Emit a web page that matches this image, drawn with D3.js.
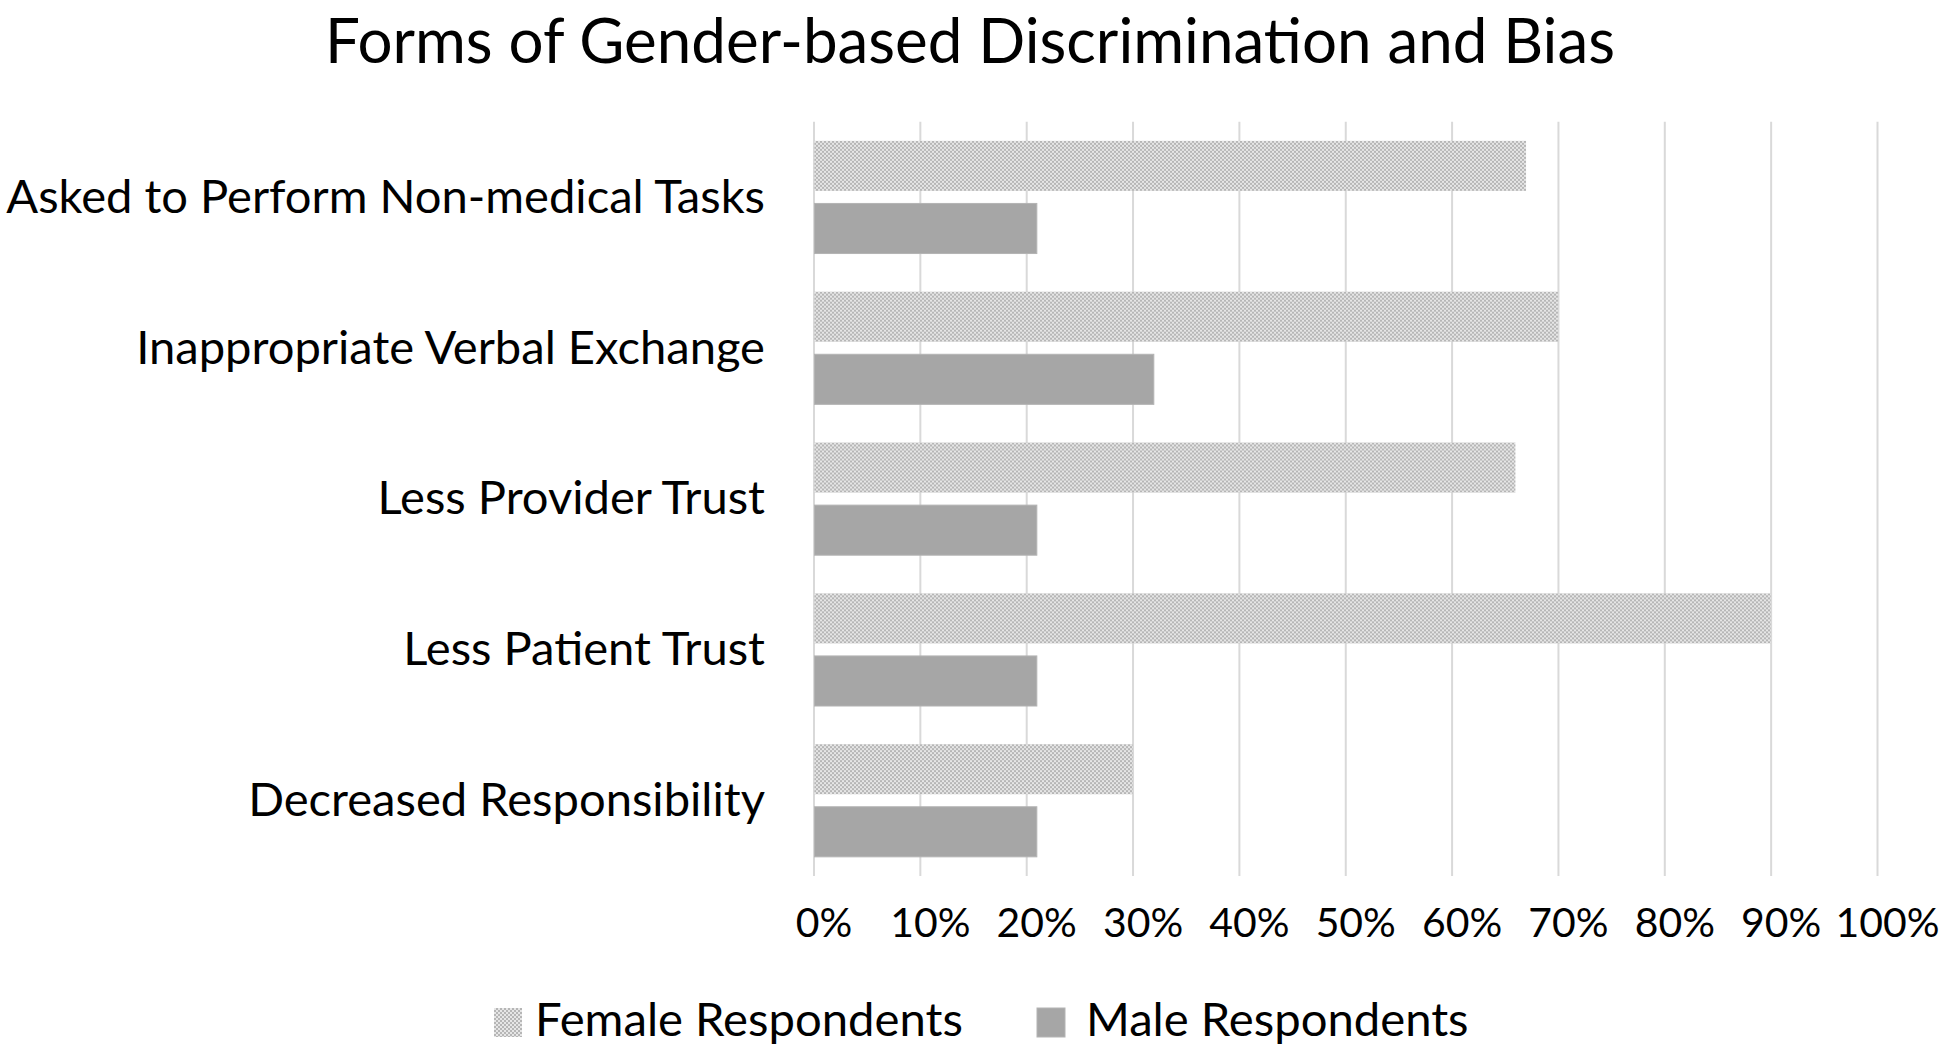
<!DOCTYPE html>
<html>
<head>
<meta charset="utf-8">
<script src="https://cdn.jsdelivr.net/npm/d3@7"></script>
<style>
  html, body { margin: 0; padding: 0; background: #ffffff; }
  svg { display: block; }
  text { font-family: Lato, "Open Sans", sans-serif; fill: #000; }
</style>
</head>
<body>
<svg id="chart" width="1950" height="1048"></svg>
<script>
const title = "Forms of Gender-based Discrimination and Bias";
const categories = [
  "Asked to Perform Non-medical Tasks",
  "Inappropriate Verbal Exchange",
  "Less Provider Trust",
  "Less Patient Trust",
  "Decreased Responsibility"
];
const seriesNames = ["Female Respondents", "Male Respondents"];
const femaleValues = [0.67, 0.70, 0.66, 0.90, 0.30];
const maleValues = [0.21, 0.32, 0.21, 0.21, 0.21];
const tickValues = [0, 0.1, 0.2, 0.3, 0.4, 0.5, 0.6, 0.7, 0.8, 0.9, 1.0];
const tickLabels = ["0%", "10%", "20%", "30%", "40%", "50%", "60%", "70%", "80%", "90%", "100%"];

const rows = categories.map((c, i) => ({ category: c, values: [
  { key: seriesNames[0], value: femaleValues[i] },
  { key: seriesNames[1], value: maleValues[i] }
]}));

const svg = d3.select("#chart");
const plot = { left: 813.5, right: 1877, top: 121.7, bottom: 876 };

// patterns
const defs = svg.append("defs");
const pat = defs.append("pattern").attr("id", "femalePat")
  .attr("patternUnits", "userSpaceOnUse").attr("width", 4).attr("height", 4);
pat.append("rect").attr("width", 4).attr("height", 4).attr("fill", "#e6e6e6");
pat.append("rect").attr("x", 0).attr("y", 0).attr("width", 2).attr("height", 2).attr("fill", "#b6b6b6");
pat.append("rect").attr("x", 2).attr("y", 2).attr("width", 2).attr("height", 2).attr("fill", "#b6b6b6");

const fills = { [seriesNames[0]]: "url(#femalePat)", [seriesNames[1]]: "#a6a6a6" };
const strokes = { [seriesNames[0]]: "none", [seriesNames[1]]: "#b4b4b4" };

const x = d3.scaleLinear().domain([0, 1]).range([plot.left, plot.right]);
const y0 = d3.scaleBand().domain(categories).range([plot.top, plot.bottom])
  .paddingInner(0.253).paddingOuter(0.127);
const y1 = d3.scaleBand().domain(seriesNames).range([0, y0.bandwidth()]).paddingInner(0.2);

function fitSize(str, targetWidth, family) {
  const t = svg.append("text").style("font-family", family).style("font-size", "100px").text(str);
  const w = t.node().getComputedTextLength();
  t.remove();
  return 100 * targetWidth / w;
}
const fam = "Lato";
const labelSize = fitSize(categories[0], 759, fam);
const tickFont = fitSize(tickLabels[10], 104, fam);
const legendSize = fitSize(seriesNames[0], 428, fam);
const titleSize = fitSize(title, 1290, fam);

// gridlines + x tick labels via axis
const xAxis = d3.axisBottom(x).tickValues(tickValues)
  .tickFormat((d, i) => tickLabels[i])
  .tickSize(-(plot.bottom - plot.top)).tickPadding(0);
const gx = svg.append("g").attr("transform", `translate(0,${plot.bottom})`).call(xAxis);
gx.select(".domain").remove();
gx.selectAll(".tick line").attr("stroke", "#d9d9d9").attr("stroke-width", 2);
gx.selectAll(".tick text")
  .attr("y", 61).attr("dy", null).attr("dx", 10)
  .style("font-family", fam).style("font-size", tickFont + "px").attr("fill", "#000");

// bars
const groups = svg.append("g").selectAll("g").data(rows).join("g")
  .attr("transform", d => `translate(0,${y0(d.category)})`);
groups.selectAll("rect").data(d => d.values).join("rect")
  .attr("x", x(0) + 1)
  .attr("y", d => y1(d.key))
  .attr("width", d => x(d.value) - x(0) - 1)
  .attr("height", y1.bandwidth())
  .attr("fill", d => fills[d.key])
  .attr("stroke", d => strokes[d.key])
  .attr("stroke-width", 1);

// y axis labels
const yAxis = d3.axisLeft(y0).tickSize(0).tickPadding(48.5);
const gy = svg.append("g").attr("transform", `translate(${plot.left},0)`).call(yAxis);
gy.select(".domain").remove();
gy.selectAll(".tick text")
  .style("font-family", fam).style("font-size", labelSize + "px").attr("fill", "#000")
  .attr("dy", "0.33em");

// title
svg.append("text").attr("x", 970).attr("y", Math.max(52, titleSize * 0.99 + 2)).attr("text-anchor", "middle")
  .style("font-family", fam).style("font-size", titleSize + "px").text(title);

// legend
const legendItems = [
  { key: seriesNames[0], sx: 494, tx: 535 },
  { key: seriesNames[1], sx: 1037, tx: 1086 }
];
const lg = svg.append("g");
legendItems.forEach(it => {
  lg.append("rect").attr("x", it.sx).attr("y", 1008).attr("width", 28).attr("height", 29)
    .attr("fill", fills[it.key]).attr("stroke", strokes[it.key]);
  lg.append("text").attr("x", it.tx).attr("y", 1036)
    .style("font-family", fam).style("font-size", legendSize + "px").text(it.key);
});
</script>
</body>
</html>
